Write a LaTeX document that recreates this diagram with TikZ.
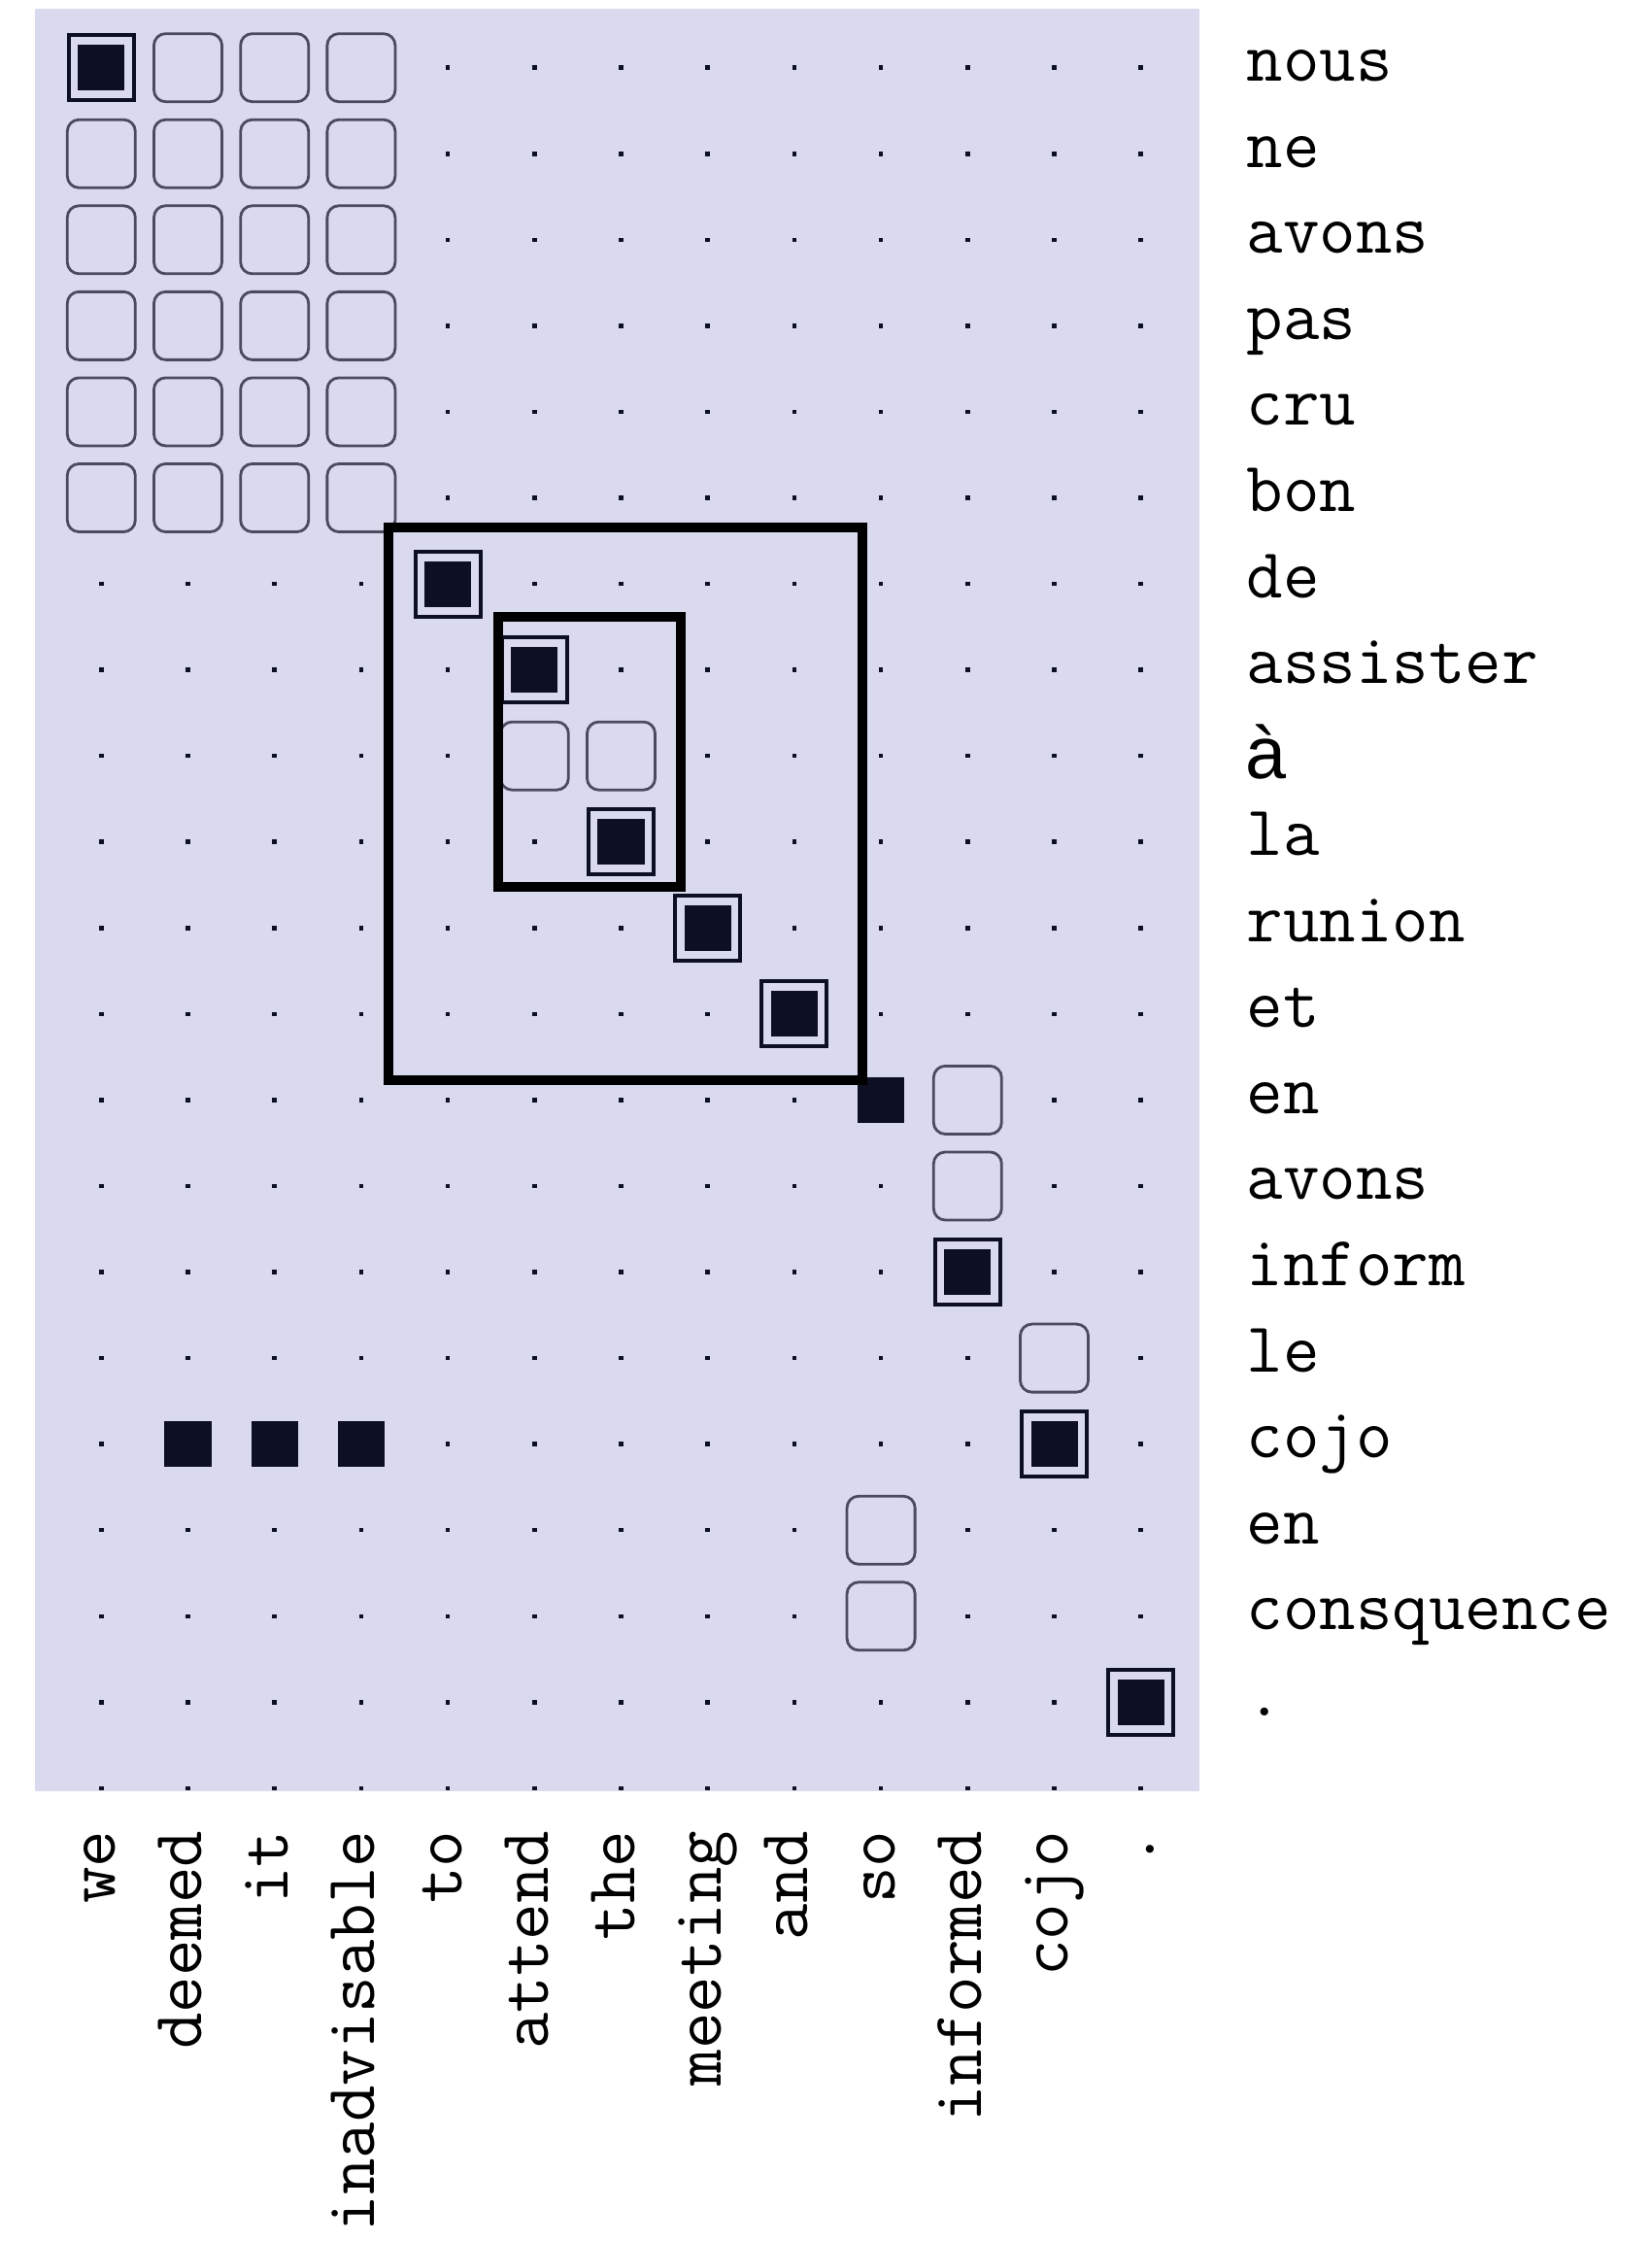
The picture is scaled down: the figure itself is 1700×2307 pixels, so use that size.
\documentclass[tikz,border=0pt]{standalone}
\usepackage{fontspec}
\newfontfamily\sansA{Liberation Sans}
\definecolor{bgc}{RGB}{217,218,238}
\definecolor{ink}{RGB}{13,15,34}
\definecolor{edgec}{RGB}{75,75,95}
\begin{document}
\begin{tikzpicture}[x=0.01cm,y=-0.01cm,
  dotc/.style={rectangle, fill=ink, minimum size=0.045cm, inner sep=0},
  sure/.style={rectangle, fill=ink, minimum width=0.48cm, minimum height=0.47cm, inner sep=0},
  framebox/.style={rectangle, draw=ink, line width=0.04cm, fill=bgc, minimum size=0.67cm, inner sep=0},
  possible/.style={rectangle, rounded corners=0.12cm, draw=edgec, line width=0.028cm, fill=bgc, minimum size=0.70cm, inner sep=0},
  phrase/.style={draw=black, line width=0.1cm},
  flabel/.style={font=\fontsize{20.7}{24}\selectfont\ttfamily, anchor=base west, inner sep=0},
  elabel/.style={font=\fontsize{20.7}{24}\selectfont\ttfamily, anchor=base east, rotate=90, inner sep=0}]
\useasboundingbox (0,0) rectangle (1700,2307);
\fill[white] (0,0) rectangle (1700,2307);
\fill[bgc] (36,9) rectangle (1235,1844);
% grid coordinates
\foreach \r in {1,...,21}{
  \foreach \c in {1,...,13}{
    \coordinate (g-\r-\c) at ({104.3+89.2*(\c-1)},{69.7+88.56*(\r-1)});
  }
}
% dots
\foreach \r in {1,...,21}{
  \foreach \c in {1,...,13}{
    \node[dotc] (d-\r-\c) at (g-\r-\c) {};
  }
}
% possible alignments (rounded boxes)
\foreach \r/\c in {1/2,1/3,1/4,
  2/1,2/2,2/3,2/4, 3/1,3/2,3/3,3/4, 4/1,4/2,4/3,4/4,
  5/1,5/2,5/3,5/4, 6/1,6/2,6/3,6/4,
  9/6,9/7, 13/11, 14/11, 16/12, 18/10, 19/10}{
  \node[possible] (p-\r-\c) at (g-\r-\c) {};
}
% sure and possible (framed filled)
\foreach \r/\c in {1/1, 7/5, 8/6, 10/7, 11/8, 12/9, 15/11, 17/12, 20/13}{
  \node[framebox] (f-\r-\c) at (g-\r-\c) {};
  \node[sure] (s-\r-\c) at (g-\r-\c) {};
}
% sure only (filled)
\foreach \r/\c in {13/10, 17/2, 17/3, 17/4}{
  \node[sure] (s-\r-\c) at (g-\r-\c) {};
}
% phrase rectangles
\draw[phrase] (400,543) rectangle (888,1112);
\draw[phrase] (512.6,635) rectangle (701,913);
% French labels
\foreach \w [count=\r] in {nous,ne,avons,pas,cru,bon,de,assister,X,la,runion,et,en,avons,inform,le,cojo,en,consquence,.}{
  \ifnum\r=9\else
  \node[flabel] (fr-\r) at (1283,{69.7+88.56*(\r-1)+14}) {\w};
  \fi
}
\node[anchor=base west, inner sep=0, font=\sansA\fontsize{21.5}{24}\selectfont] (fr-9) at (1282,801) {à};
% English labels
\foreach \w [count=\c] in {we,deemed,it,inadvisable,to,attend,the,meeting,and,so,informed,cojo,.}{
  \node[elabel] (en-\c) at ({104.3+89.2*(\c-1)+14},1884) {\w};
}
\end{tikzpicture}
\end{document}
